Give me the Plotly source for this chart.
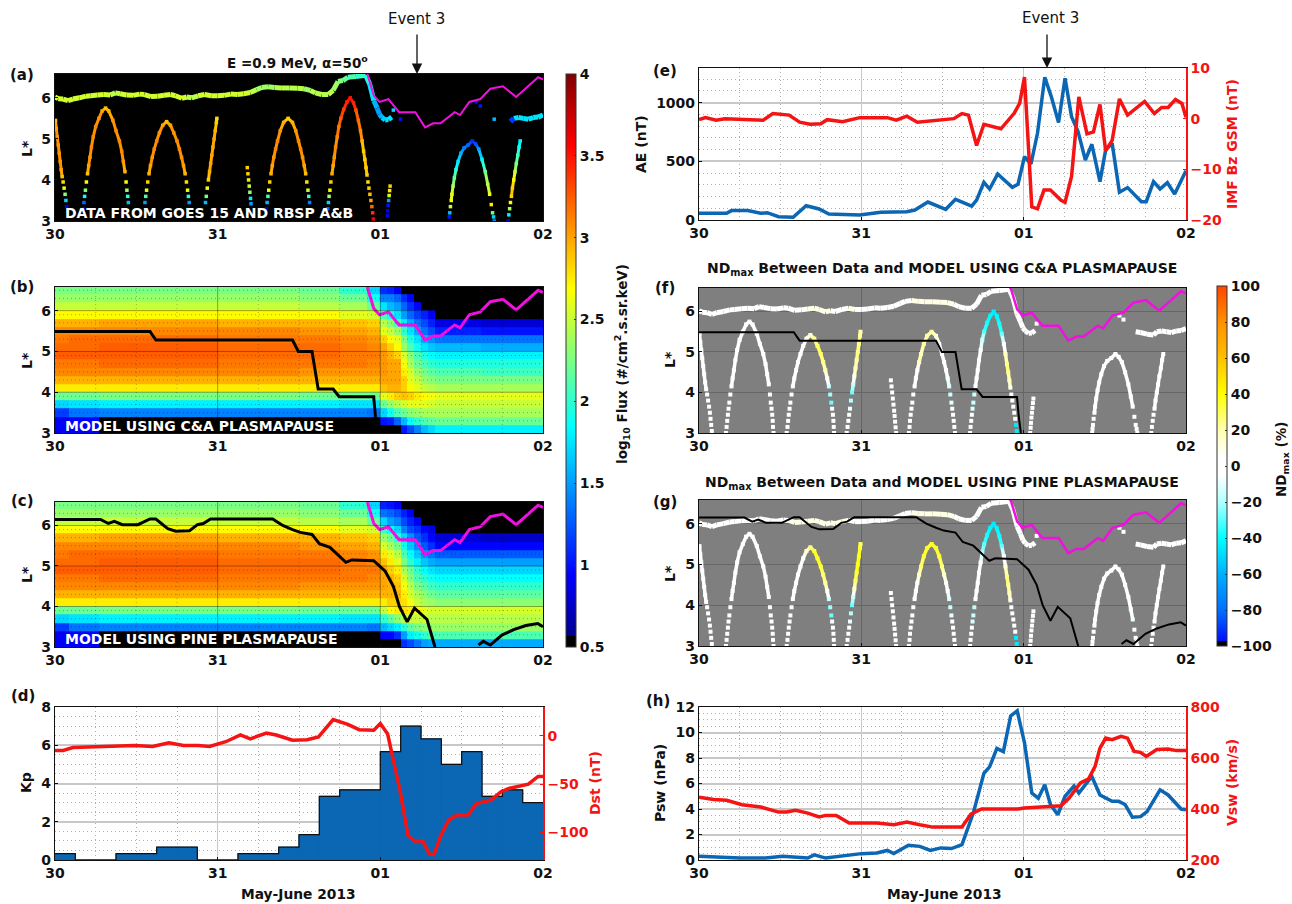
import plotly.graph_objects as go

W, H = 1292, 904
FONT = "DejaVu Sans"
DAY_TICKS = [0, 1, 2, 3]
DAY_LABELS = ["30", "31", "01", "02"]
BLUE = "#0b66b3"
RED = "#f41414"
MAGENTA = "#f010e0"

# ---- satellite data: (day, L*, log10 flux, ND C&A, ND Pine)
ARC1 = [(.003,5.45,2.9,0,0),(.008,5.25,3.0,0,0),(.014,5.05,3.05,0,0),(.02,4.85,3.05,0,0),(.026,4.65,3.05,0,0),(.032,4.45,3.05,0,0),
        (.038,4.25,3.0,0,0),(.044,4.08,2.9,0,0),(.05,3.95,2.8,0,0),(.056,3.8,2.6,0,0),(.062,3.65,2.3,0,0),(.067,3.5,1.7,0,0),(.071,3.35,.9,0,0),(.075,3.2,.5,0,0),(.079,3.05,.5,0,0)]
ARC2 = [(.166,3.0,.5,0,0),(.17,3.15,.5,0,0),(.174,3.3,.8,0,0),(.178,3.45,1.3,0,0),(.182,3.6,1.9,0,0),(.187,3.75,2.3,0,0),(.193,3.95,2.7,0,0),
        (.2,4.15,2.9,0,0),(.207,4.35,3.0,0,0),(.215,4.55,3.05,0,0),(.224,4.8,3.1,0,0),(.235,5.05,3.1,0,0),(.25,5.3,3.1,0,0),(.27,5.5,3.05,0,0),
        (.29,5.68,3.0,0,0),(.311,5.75,2.9,0,0),(.33,5.68,2.95,0,0),(.356,5.45,3.05,0,0),(.375,5.2,3.1,0,0),(.396,4.95,3.1,0,0),(.41,4.7,3.1,0,0),
        (.42,4.45,3.05,0,0),(.43,4.2,2.95,0,0),(.437,3.95,2.7,0,0),(.442,3.75,2.4,0,0),(.447,3.6,2.0,0,0),(.451,3.45,1.6,0,0),(.454,3.3,.5,0,0),(.456,3.15,.5,0,0),(.459,3.0,.5,0,0)]
ARC3 = [(.54,3.0,.5,0,0),(.545,3.15,.5,0,0),(.549,3.3,.5,0,0),(.553,3.45,1.5,0,0),(.558,3.6,2.1,0,0),(.563,3.75,2.6,0,0),(.57,3.95,2.85,0,0),
        (.578,4.15,2.95,0,0),(.587,4.35,3.0,0,0),(.598,4.55,3.05,0,0),(.61,4.75,3.1,0,0),(.625,4.95,3.1,0,3),(.642,5.15,3.05,3,5),(.662,5.33,3.0,8,15),
        (.686,5.42,2.9,15,25),(.71,5.33,3.0,25,35),(.73,5.15,3.05,28,35),(.75,4.95,3.1,28,32),(.765,4.75,3.1,25,28),(.778,4.55,3.05,20,22),(.79,4.35,3.0,5,8),
        (.8,4.15,2.95,-15,-15),(.808,3.95,2.8,-22,-22),(.815,3.75,2.6,-28,-28),(.82,3.6,2.0,-5,-5),(.825,3.45,1.5,0,0),(.828,3.3,.5,0,0),(.83,3.15,.5,0,0),(.832,3.0,.5,0,0)]
ARC4 = [(.91,3.0,.5,0,0),(.915,3.15,.5,0,0),(.92,3.3,.5,0,0),(.925,3.45,1.6,0,0),(.93,3.6,2.2,-8,-8),(.936,3.8,2.7,-20,-20),(.943,4.0,2.85,-28,-28),
        (.95,4.2,2.95,-15,-15),(.957,4.4,3.0,10,15),(.964,4.6,3.0,18,30),(.971,4.8,3.0,22,35),(.978,5.0,3.0,25,38),(.985,5.2,2.95,25,38),(.992,5.4,2.85,22,35),(.995,5.5,2.8,20,30)]
ARC5 = [(1.182,4.3,2.85,0,0),(1.186,4.15,2.85,0,0),(1.19,4.0,2.75,0,0),(1.194,3.85,2.5,0,0),(1.198,3.7,2.3,0,0),(1.202,3.55,1.8,0,0),(1.205,3.42,1.5,0,0),(1.208,3.28,.5,0,0),(1.211,3.14,.5,0,0),(1.214,3.0,.5,0,0)]
ARC6 = [(1.293,3.0,.5,0,0),(1.297,3.15,.5,0,0),(1.3,3.3,.8,0,0),(1.304,3.45,1.6,0,0),(1.309,3.6,2.1,0,0),(1.314,3.75,2.65,0,0),(1.32,3.95,2.85,0,0),
        (1.328,4.15,2.95,0,0),(1.336,4.35,3.0,0,0),(1.345,4.55,3.05,5,5),(1.356,4.75,3.1,15,15),(1.368,4.95,3.1,20,28),(1.385,5.2,3.05,22,33),(1.405,5.4,2.95,22,35),
        (1.433,5.5,2.85,22,35),(1.46,5.4,2.95,12,35),(1.48,5.2,3.05,5,33),(1.497,4.95,3.1,3,25),(1.51,4.75,3.1,0,15),(1.522,4.55,3.05,0,5),(1.532,4.35,3.0,-5,-5),
        (1.541,4.15,2.9,-12,-12),(1.548,3.95,2.8,-15,-15),(1.555,3.75,2.5,-8,-8),(1.56,3.6,2.0,0,0),(1.565,3.45,1.4,0,0),(1.569,3.3,.5,0,0),(1.573,3.15,.5,0,0),(1.577,3.0,.5,0,0)]
ARC7 = [(1.67,3.0,.5,0,0),(1.673,3.15,.7,0,0),(1.677,3.3,1.3,0,0),(1.681,3.45,1.7,-5,-5),(1.685,3.6,2.4,-12,-12),(1.69,3.75,2.7,-15,-15),(1.696,3.95,2.85,-15,-18),
        (1.703,4.15,3.0,-5,-5),(1.71,4.35,3.0,0,0),(1.717,4.55,3.05,0,0),(1.725,4.8,3.1,0,0),(1.735,5.05,3.1,0,-5),(1.745,5.3,3.15,-15,-20),(1.757,5.5,3.25,-30,-30),
        (1.775,5.72,3.35,-38,-38),(1.795,5.9,3.45,-42,-42),(1.815,6.0,3.5,-45,-45),(1.835,5.88,3.45,-42,-42),(1.85,5.7,3.3,-38,-38),(1.865,5.45,3.2,-28,-28),
        (1.878,5.2,3.1,-5,0),(1.888,4.95,2.95,15,12),(1.897,4.7,2.85,25,25),(1.905,4.5,2.85,25,25),(1.912,4.3,2.85,18,18),(1.918,4.12,2.85,8,8),(1.924,3.95,2.8,0,0),
        (1.93,3.8,2.85,0,0),(1.936,3.65,2.9,0,0),(1.942,3.5,3.0,0,0),(1.948,3.35,3.2,0,0),(1.953,3.2,3.4,-45,-45),(1.957,3.05,3.6,-45,-45)]
ARC8 = [(2.04,3.0,.5,0,0),(2.043,3.13,.9,0,0),(2.045,3.25,.9,0,0),(2.048,3.38,1.0,0,0),(2.051,3.5,1.5,0,0),(2.054,3.62,2.6,0,0),(2.057,3.74,2.75,0,0),(2.06,3.85,2.85,0,0)]
ARC9 = [(2.422,3.0,.5,0,0),(2.424,3.1,1.0,0,0),(2.427,3.2,1.6,0,0),(2.431,3.35,2.5,0,0),(2.436,3.5,2.65,0,0),(2.44,3.65,2.6,0,0),(2.447,3.85,2.4,0,0),(2.455,4.05,2.2,0,0),
        (2.465,4.25,1.95,0,0),(2.478,4.45,1.75,0,0),(2.495,4.65,1.55,0,0),(2.515,4.78,1.4,0,0),(2.54,4.85,1.3,0,0),(2.565,4.95,1.1,0,0),(2.585,4.88,1.2,0,0),(2.605,4.75,1.5,0,0),
        (2.625,4.5,1.8,0,0),(2.645,4.2,2.2,0,0),(2.66,3.9,2.45,-5,-5),(2.672,3.65,2.65,-5,-8),(2.682,3.4,2.75,0,0),(2.69,3.2,2.2,0,0),(2.696,3.1,1.7,0,0),(2.7,3.0,1.4,0,0)]
ARC10 = [(2.786,3.0,.9,0,0),(2.79,3.15,1.8,0,0),(2.795,3.3,2.4,0,0),(2.8,3.45,2.7,0,0),(2.806,3.6,2.85,0,0),(2.812,3.8,2.85,0,0),(2.82,4.0,2.7,0,0),(2.828,4.2,2.5,0,0),
         (2.836,4.4,2.25,0,0),(2.845,4.6,2.05,0,0),(2.853,4.8,1.9,0,0),(2.86,4.95,1.8,0,0)]
ARCS = [ARC1, ARC2, ARC3, ARC4, ARC5, ARC6, ARC7, ARC8, ARC9, ARC10]
ARC_SOLID_FROM = [4.0, 4.0, 4.0, 4.0, 9, 4.0, 4.0, 9, 3.5, 3.5]

GOES = [(0,6.02,2.5,0,0),(.02,5.98,2.5,0,0),(.05,5.97,2.5,0,0),(.08,5.93,2.5,0,0),(.11,5.97,2.5,0,0),(.15,6.0,2.5,0,0),(.19,6.04,2.5,0,0),(.22,6.05,2.5,0,0),(.26,6.07,2.5,0,0),
        (.3,6.08,2.5,0,0),(.34,6.07,2.5,0,0),(.37,6.12,2.45,3,3),(.4,6.1,2.5,3,3),(.44,6.07,2.5,3,3),(.48,6.06,2.5,3,5),(.52,6.09,2.5,3,5),(.55,6.08,2.5,5,8),(.59,6.03,2.5,5,8),
        (.63,6.04,2.5,5,10),(.67,6.06,2.5,8,10),(.71,6.08,2.5,10,10),(.74,6.05,2.5,10,12),(.78,5.99,2.5,8,12),(.81,6.02,2.5,8,10),(.84,6.0,2.45,5,10),(.88,6.05,2.5,5,8),(.92,6.08,2.5,8,8),
        (.96,6.05,2.5,8,5),(1.0,6.05,2.5,5,3),(1.04,6.06,2.5,3,0),(1.08,6.09,2.5,0,0),(1.12,6.08,2.5,0,0),(1.16,6.1,2.5,0,0),(1.2,6.13,2.5,3,3),(1.24,6.2,2.4,3,3),(1.27,6.25,2.4,5,5),
        (1.31,6.27,2.4,8,8),(1.35,6.25,2.4,8,8),(1.39,6.24,2.45,8,8),(1.44,6.24,2.45,10,10),(1.49,6.23,2.45,12,12),(1.53,6.22,2.4,10,10),(1.57,6.18,2.4,8,8),(1.6,6.12,2.45,5,5),
        (1.64,6.08,2.45,5,5),(1.68,6.08,2.45,0,0),(1.71,6.18,2.4,-3,-3),(1.74,6.4,2.3,-5,-5),(1.77,6.42,2.25,-5,-5),(1.8,6.5,2.1,-8,-8),(1.85,6.52,2.05,-6,-6),(1.91,6.55,2.0,-3,-3),
        (1.934,6.34,1.85,-3,-3),(1.96,5.93,1.6,0,0),(1.98,5.75,1.55,0,0),(1.995,5.6,1.5,0,0),(2.01,5.52,1.6,0,0),(2.03,5.46,1.7,0,0),(2.05,5.47,1.75,0,0),(2.07,5.53,1.75,0,0)]
GOES_LATE = [(2.69,5.5,.5,0,0),(2.72,5.48,.5,0,0),(2.76,5.44,.5,0,0),(2.8,5.42,.5,0,0),(2.82,5.5,1.75,0,0),(2.85,5.52,1.75,0,0),(2.88,5.5,1.75,0,0),(2.91,5.48,1.75,0,0),
             (2.94,5.52,1.75,0,0),(2.97,5.53,1.75,0,0),(3.0,5.58,1.75,0,0)]
STRAY = [(2.08,5.7,1.7,0,0),(2.124,5.48,1.0,0,0),(2.59,5.9,1.0,0,0),(2.615,5.8,1.0,0,0),(2.7,5.48,1.6,0,0)]

# ---- plasmapause locations
LPP_T = [1.92,1.96,1.995,2.05,2.115,2.215,2.275,2.325,2.37,2.457,2.49,2.547,2.615,2.676,2.754,2.835,2.97,3.0]
LPP_L = [6.58,6.05,5.9,5.97,5.65,5.65,5.28,5.38,5.38,5.65,5.58,5.9,5.97,6.22,6.28,6.02,6.5,6.45]
CA_T = [0,.584,.62,1.46,1.496,1.58,1.618,1.71,1.747,1.959,1.97,1.983]
CA_L = [5.49,5.49,5.28,5.28,5.0,5.0,4.08,4.08,3.89,3.89,3.4,3.0]
PINE_T = [0,.28,.328,.365,.414,.51,.584,.62,.693,.742,.827,.876,.912,.956,1.338,1.4,1.46,1.508,1.58,1.625,1.69,1.788,1.825,1.959,2.03,2.08,2.117,2.165,2.21,2.287,2.336,None,2.603,2.633,2.676,2.75,2.82,2.895,2.968,3.0]
PINE_L = [6.15,6.15,6.05,6.1,6.02,6.02,6.16,6.16,5.92,5.86,5.87,6.02,6.05,6.16,6.16,6.0,5.9,5.83,5.78,5.55,5.46,5.09,5.15,5.13,4.87,4.5,4.0,3.62,3.96,3.68,3.0,None,3.05,3.14,3.05,3.3,3.43,3.53,3.58,3.5]

# ---- model grids
GRID_T = [0,.085,.27,1.0,1.5,1.75,1.92,2.0,2.0417,2.0833,2.125,2.1667,2.2083,2.25,2.2917,2.3333,2.62,3.0]
GRID_L = [3.0,3.2,3.4,3.6,3.8,4.0,4.2,4.4,4.6,4.8,5.0,5.2,5.4,5.6,5.8,6.0,6.2,6.4,6.6]
FLUX_B = [
 [.9,.9,.5,.5,.5,.5,.5,.5,.5,.5,1.0,1.2,1.4,1.6,1.7,1.8,1.8],
 [.9,.95,.5,.5,.5,.5,.5,1.0,1.05,1.3,1.6,1.85,2.0,2.1,2.15,2.2,2.2],
 [1.15,1.35,1.4,1.4,1.4,1.4,1.35,1.7,1.9,2.1,2.2,2.3,2.35,2.4,2.4,2.4,2.4],
 [1.7,1.75,1.8,1.8,1.8,1.75,1.75,2.2,2.35,2.45,2.55,2.6,2.6,2.6,2.55,2.5,2.5],
 [2.2,2.2,2.25,2.25,2.2,2.2,2.2,2.6,2.75,2.85,2.9,2.85,2.75,2.7,2.65,2.6,2.6],
 [2.75,2.75,2.75,2.75,2.75,2.75,2.75,2.9,2.95,2.95,2.85,2.7,2.6,2.5,2.45,2.4,2.4],
 [2.95,2.95,2.95,2.95,2.95,2.95,2.95,3.0,3.0,3.0,2.85,2.6,2.5,2.35,2.3,2.25,2.25],
 [3.1,3.1,3.1,3.1,3.05,3.05,3.05,3.05,3.0,3.0,2.75,2.55,2.35,2.25,2.15,2.1,2.05],
 [3.15,3.15,3.2,3.15,3.15,3.15,3.1,3.05,3.0,3.0,2.65,2.4,2.2,2.1,2.0,1.95,1.95],
 [3.25,3.25,3.25,3.2,3.2,3.15,3.15,3.05,2.95,2.85,2.55,2.3,2.1,1.95,1.85,1.8,1.8],
 [3.2,3.2,3.25,3.2,3.2,3.15,3.1,3.0,2.85,2.7,2.35,2.1,1.9,1.75,1.65,1.6,1.55],
 [3.15,3.2,3.2,3.15,3.15,3.1,3.05,2.85,2.7,2.6,2.25,1.95,1.75,1.55,1.45,1.35,1.35],
 [3.1,3.1,3.1,3.1,3.05,3.0,2.95,2.6,2.5,2.35,2.0,1.75,1.55,1.35,1.2,1.05,1.0],
 [2.95,2.95,3.0,2.95,2.95,2.9,2.85,2.45,2.3,2.1,1.8,1.55,1.35,1.2,1.05,.85,.8],
 [2.7,2.7,2.7,2.7,2.7,2.6,2.55,2.1,1.9,1.75,1.5,1.3,1.15,1.05,.9,.5,.5],
 [2.5,2.5,2.5,2.5,2.45,2.4,2.2,1.75,1.6,1.5,1.3,1.1,.95,.5,.5,.5,.5],
 [2.35,2.35,2.35,2.35,2.3,2.2,1.9,1.4,1.4,1.3,1.1,.95,.5,.5,.5,.5,.5],
 [2.25,2.25,2.25,2.25,2.2,2.0,1.7,1.1,1.05,.9,.5,.5,.5,.5,.5,.5,.5],
]
FLUX_C = [
 [.9,.9,.5,.5,.5,.5,.5,.5,.5,.5,1.1,1.2,1.35,1.5,1.55,1.55,1.55],
 [.9,.95,.5,.5,.5,.5,.5,.95,.95,1.1,1.5,1.8,1.9,2.0,2.1,2.1,2.1],
 [1.15,1.35,1.4,1.4,1.4,1.4,1.35,1.6,1.7,1.8,2.0,2.15,2.25,2.3,2.35,2.35,2.35],
 [1.7,1.75,1.8,1.8,1.8,1.75,1.75,2.0,2.15,2.3,2.45,2.5,2.5,2.5,2.45,2.45,2.45],
 [2.2,2.2,2.25,2.25,2.2,2.2,2.2,2.5,2.7,2.75,2.8,2.75,2.7,2.6,2.55,2.55,2.55],
 [2.75,2.75,2.75,2.75,2.75,2.75,2.75,2.75,2.85,2.85,2.8,2.65,2.5,2.4,2.35,2.3,2.3],
 [2.95,2.95,2.95,2.95,2.95,2.95,2.95,2.95,2.95,2.95,2.75,2.55,2.4,2.3,2.2,2.15,2.15],
 [3.1,3.1,3.1,3.1,3.05,3.05,3.05,3.0,2.95,2.9,2.65,2.45,2.25,2.15,2.05,2.0,2.0],
 [3.15,3.15,3.2,3.15,3.15,3.15,3.1,3.0,2.95,2.85,2.55,2.3,2.1,2.0,1.9,1.85,1.85],
 [3.25,3.25,3.25,3.2,3.2,3.15,3.15,3.0,2.85,2.75,2.4,2.2,2.0,1.85,1.75,1.7,1.7],
 [3.2,3.2,3.25,3.2,3.2,3.15,3.1,2.9,2.75,2.6,2.25,2.0,1.8,1.65,1.55,1.5,1.5],
 [3.15,3.2,3.2,3.15,3.15,3.1,3.05,2.75,2.6,2.45,2.1,1.85,1.65,1.45,1.35,1.25,1.25],
 [3.1,3.1,3.1,3.1,3.05,3.0,2.95,2.55,2.4,2.25,1.9,1.65,1.45,1.25,1.1,.95,.95],
 [2.95,2.95,3.0,2.95,2.95,2.9,2.85,2.35,2.2,2.0,1.7,1.45,1.25,1.1,.95,.8,.75],
 [2.7,2.7,2.7,2.7,2.7,2.6,2.55,2.05,1.85,1.7,1.4,1.2,1.1,.95,.85,.5,.5],
 [2.5,2.5,2.5,2.5,2.45,2.4,2.2,1.7,1.5,1.4,1.2,1.05,.9,.5,.5,.5,.5],
 [2.35,2.35,2.35,2.35,2.3,2.2,1.9,1.35,1.3,1.2,1.05,.9,.5,.5,.5,.5,.5],
 [2.25,2.25,2.25,2.25,2.2,2.0,1.7,1.05,1.0,.9,.5,.5,.5,.5,.5,.5,.5],
]

# ---- geophysical indices
KP_T = [.0625,.1875,.3125,.4375,.5625,.6875,.8125,.9375,1.0625,1.1875,1.3125,1.4375,1.5625,1.6875,1.8125,1.9375,2.0625,2.1875,2.3125,2.4375,2.5625,2.6875,2.8125,2.9375]
KP = [.33,0,0,.33,.33,.67,.67,0,0,.33,.33,.67,1.33,3.33,3.67,3.67,5.67,7,6.33,5,5.67,3.33,3.67,3]
DST_T = [0,.05,.11,.27,.39,.49,.6,.7,.79,.88,.95,1.05,1.14,1.2,1.3,1.36,1.46,1.55,1.62,1.67,1.71,1.8,1.87,1.96,2.0,2.045,2.08,2.12,2.17,2.21,2.26,2.3,2.33,2.37,2.42,2.47,2.54,2.59,2.68,2.74,2.79,2.85,2.91,2.97,3.0]
DST = [-15,-15,-12,-11,-11,-10,-11,-7,-10,-10,-11,-6,1,-3,3,1,-4.5,-4,-1,9,17,12,6.5,6,13,2,-25,-56,-103,-109,-108.6,-122,-123,-104,-87,-82,-82,-70,-66.5,-58,-54.5,-52,-50,-42,-42]
AE_T = [0,.17,.2,.3,.38,.42,.49,.58,.66,.74,.8,.99,1.12,1.28,1.33,1.41,1.52,1.58,1.68,1.71,1.755,1.79,1.84,1.93,1.965,2.005,2.045,2.085,2.13,2.17,2.215,2.255,2.295,2.335,2.38,2.42,2.47,2.505,2.545,2.59,2.64,2.725,2.755,2.8,2.84,2.885,2.93,3.0]
AE = [57,57,80,80,57,62,28,23,122,94,51,43,65,71,85,153,91,176,119,170,321,264,392,278,304,540,477,739,1216,1051,830,1207,880,753,511,645,327,597,653,236,276,156,156,327,264,318,222,420]
BZ_T = [0,.04,.105,.16,.395,.455,.555,.62,.685,.75,.79,.885,.99,1.16,1.215,1.28,1.345,1.57,1.62,1.66,1.71,1.755,1.86,1.94,1.975,2.005,2.025,2.05,2.085,2.125,2.165,2.23,2.255,2.295,2.34,2.39,2.43,2.47,2.505,2.545,2.59,2.64,2.745,2.805,2.85,2.89,2.935,2.975,3.0]
BZ = [-.2,.2,-.3,0,-.3,1,.7,-.7,-1.1,-1,-.2,-.6,.2,.2,-.3,.5,-.7,0,1,.7,-5.3,-1.1,-2,1,3,8.2,-3,-17.4,-17.8,-14.1,-14.1,-16.1,-16.5,-11.4,4.3,-3,-2.6,2.8,-6.3,-4.3,3.9,.7,3.4,1,2.2,2.2,3.8,3,.3]
PSW_T = [0,.25,.41,.515,.67,.71,.78,.885,1.0,1.095,1.16,1.2,1.29,1.36,1.425,1.49,1.555,1.62,1.69,1.755,1.79,1.835,1.875,1.92,1.96,2.005,2.05,2.09,2.13,2.165,2.21,2.255,2.31,2.34,2.42,2.47,2.545,2.585,2.625,2.67,2.72,2.76,2.84,2.89,2.97,3.0]
PSW = [.3,.15,.15,.3,.15,.4,.15,.3,.5,.55,.75,.5,1.15,1.07,.75,.95,.9,1.2,3.7,6.8,7.3,8.75,8.5,11.3,11.7,9.2,5.25,4.85,5.9,4.35,3.55,5,5.8,5.25,6.55,5.1,4.6,4.6,4.35,3.35,3.4,3.8,5.5,5.1,4.0,3.95]
VSW_T = [0,.09,.17,.265,.38,.49,.54,.595,.67,.74,.78,.845,.925,1.095,1.2,1.28,1.36,1.44,1.62,1.675,1.74,1.965,2.005,2.15,2.23,2.28,2.35,2.4,2.44,2.47,2.505,2.545,2.6,2.64,2.68,2.72,2.755,2.82,2.89,2.94,3.0]
VSW = [446,437,434,417,408,388,388,395,384,369,375,375,345,345,338,349,338,329,329,380,400,400,404,408,413,443,502,518,567,639,678,672,685,678,626,622,606,633,635,629,629]

JET = [[0,"#000000"],[.02,"#000000"],[.02,"#00008f"],[.125,"#0000ff"],[.385,"#00ffff"],[.625,"#ffff00"],[.875,"#ff0000"],[1,"#800000"]]
ND_SCALE = [[0,"#000000"],[.015,"#000000"],[.015,"#0010ff"],[.1,"#0070ff"],[.2,"#00b0ff"],[.3,"#00ffff"],[.4,"#b0ffff"],[.475,"#ffffff"],[.525,"#ffffff"],[.6,"#ffffb0"],[.7,"#ffff00"],[.8,"#ffc000"],[.9,"#ff9000"],[1,"#ff4500"]]


def px_x(p):
    return p / W


def px_y(p):
    return 1 - p / H


def tint(scale, frac):
    frac = min(max(frac, 0), 1)
    for (a, ca), (b, cb) in zip(scale, scale[1:]):
        if a <= frac <= b and b > a:
            f = (frac - a) / (b - a)
            ra = [int(ca[i:i + 2], 16) for i in (1, 3, 5)]
            rb = [int(cb[i:i + 2], 16) for i in (1, 3, 5)]
            return "rgb(%d,%d,%d)" % tuple(round(x + (y - x) * f) for x, y in zip(ra, rb))
    return scale[-1][1]


def band_lines(fig, runs, col, scale, lo, hi, width, xa, ya):
    """Draw coloured polylines; one trace per colour bin."""
    bins = {}
    for pts, solid in runs:
        for p, q in zip(pts, pts[1:]):
            if p[1] >= solid and q[1] >= solid:
                key = round((p[col] + q[col]) / 2 / ((hi - lo) / 40)) * ((hi - lo) / 40)
                b = bins.setdefault(key, ([], []))
                b[0].extend([p[0], q[0], None])
                b[1].extend([p[1], q[1], None])
    for key, (xs, ys) in bins.items():
        fig.add_trace(go.Scatter(x=xs, y=ys, mode="lines", xaxis=xa, yaxis=ya, showlegend=False, hoverinfo="skip",
                                 line=dict(color=tint(scale, (key - lo) / (hi - lo)), width=width)))


def dots(fig, pts, col, axis, size, xa, ya):
    fig.add_trace(go.Scatter(x=[p[0] for p in pts], y=[p[1] for p in pts], mode="markers", xaxis=xa, yaxis=ya, showlegend=False, hoverinfo="skip",
                             marker=dict(symbol="square", size=size, line_width=0, color=[p[col] for p in pts], coloraxis=axis)))


def data_panel(fig, col, axis, scale, lo, hi, xa, ya, width, goes_w, size):
    runs = [(a, s) for a, s in zip(ARCS, ARC_SOLID_FROM)]
    band_lines(fig, runs, col, scale, lo, hi, width, xa, ya)
    band_lines(fig, [(GOES, 0), (GOES_LATE, 0)], col, scale, lo, hi, goes_w, xa, ya)
    allpts = [p for a in ARCS for p in a]
    allpts += STRAY if col == 2 else [STRAY[0], STRAY[2], STRAY[3]]
    dots(fig, allpts, col, axis, size, xa, ya)


fig = go.Figure()
TICK = dict(family=FONT, size=14, color="#111111", weight="bold")
TICK_R = dict(family=FONT, size=14, color=RED, weight="bold")
MINOR_DOT = "1px,3px"

LEFT = (55, 543)
RIGHT = (699, 1186)
PANELS = {
    1: (LEFT, 74, 221), 2: (LEFT, 287, 433), 3: (LEFT, 502, 647), 4: (LEFT, 707, 860),
    5: (RIGHT, 68, 220), 6: (RIGHT, 288, 433), 7: (RIGHT, 500, 646), 8: (RIGHT, 707, 860),
}
L_RANGE = [3, 6.58]
L_TICKS = [3, 4, 5, 6]
layout_axes = {}
for i, ((x0, x1), top, bot) in PANELS.items():
    white = i in (4, 5, 8)
    grey = i in (6, 7)
    xax = dict(domain=[px_x(x0), px_x(x1)], range=[0, 3], anchor="y%d" % i, tickmode="array", tickvals=DAY_TICKS, ticktext=DAY_LABELS,
               tickfont=TICK, showline=True, linecolor="#111111", linewidth=1.2, mirror=True, ticks="inside", ticklen=3, tickcolor="#111111",
               showgrid=white or grey, gridcolor="#c8c8c8" if white else "#666666", gridwidth=1, zeroline=False)
    yax = dict(domain=[px_y(bot), px_y(top)], anchor="x%d" % i, tickfont=TICK, showline=True, linecolor="#111111", linewidth=1.2,
               mirror=not white, ticks="inside", ticklen=3, tickcolor="#111111", showgrid=white or grey,
               gridcolor="#c8c8c8" if white else "#666666", gridwidth=2 if white else 1, zeroline=False)
    if white:
        xax["minor"] = dict(dtick=.25, tick0=0, showgrid=True, griddash=MINOR_DOT, gridcolor="#b0b0b0", gridwidth=1, ticks="")
    if i in (1, 2, 3, 6, 7):
        yax.update(range=L_RANGE, tickmode="array", tickvals=L_TICKS)
    layout_axes["xaxis%d" % i] = xax
    layout_axes["yaxis%d" % i] = yax

MINOR_Y = dict(tick0=0, showgrid=True, griddash=MINOR_DOT, gridcolor="#b0b0b0", gridwidth=1, ticks="")
layout_axes["yaxis4"].update(range=[0, 8], tickmode="array", tickvals=[0, 2, 4, 6, 8], minor=dict(dtick=.5, **MINOR_Y))
layout_axes["yaxis5"].update(range=[0, 1295], tickmode="array", tickvals=[0, 500, 1000], minor=dict(dtick=100, **MINOR_Y))
layout_axes["yaxis8"].update(range=[0, 12], tickmode="array", tickvals=[0, 2, 4, 6, 8, 10, 12], minor=dict(dtick=.5, **MINOR_Y))
for idx, ov, rng, tv in ((9, 4, [-128.6, 30], [-100, -50, 0]), (10, 5, [-20, 10], [-20, -10, 0, 10]), (11, 8, [200, 800], [200, 400, 600, 800])):
    layout_axes["yaxis%d" % idx] = dict(overlaying="y%d" % ov, anchor="x%d" % ov, side="right", range=rng, tickmode="array", tickvals=tv, tickfont=TICK_R,
                                        showline=True, linecolor=RED, linewidth=1.5, ticks="inside", ticklen=3, tickcolor=RED, showgrid=False, zeroline=False)

# panel a
data_panel(fig, 2, "coloraxis", JET, .5, 4, "x1", "y1", 3, 5, 3.5)
fig.add_trace(go.Scatter(x=LPP_T, y=LPP_L, mode="lines", xaxis="x1", yaxis="y1", line=dict(color=MAGENTA, width=2), showlegend=False, hoverinfo="skip"))

# panels b, c
for n, flux, black_t, black_l, lw in ((2, FLUX_B, CA_T, CA_L, 3), (3, FLUX_C, PINE_T, PINE_L, 3)):
    fig.add_trace(go.Heatmap(x=GRID_T, y=GRID_L, z=flux, coloraxis="coloraxis", xaxis="x%d" % n, yaxis="y%d" % n, hoverinfo="skip"))
    fig.add_trace(go.Scatter(x=LPP_T, y=LPP_L, mode="lines", xaxis="x%d" % n, yaxis="y%d" % n, line=dict(color=MAGENTA, width=3), showlegend=False, hoverinfo="skip"))
    fig.add_trace(go.Scatter(x=black_t, y=black_l, mode="lines", xaxis="x%d" % n, yaxis="y%d" % n, line=dict(color="black", width=lw), showlegend=False, hoverinfo="skip"))

# panel d
fig.add_trace(go.Bar(x=KP_T, y=KP, width=.125, xaxis="x4", yaxis="y4", marker=dict(color=BLUE, line=dict(color=BLUE, width=1)), showlegend=False, hoverinfo="skip"))
fig.add_trace(go.Scatter(x=[0] + KP_T + [3], y=[KP[0]] + KP + [KP[-1]], mode="lines", xaxis="x4", yaxis="y4", line=dict(color="#111111", width=1.2, shape="hvh"), showlegend=False, hoverinfo="skip"))
fig.add_trace(go.Scatter(x=DST_T, y=DST, mode="lines", xaxis="x4", yaxis="y9", line=dict(color=RED, width=3.5), showlegend=False, hoverinfo="skip"))

# panel e
fig.add_trace(go.Scatter(x=AE_T, y=AE, mode="lines", xaxis="x5", yaxis="y5", line=dict(color=BLUE, width=3.5), showlegend=False, hoverinfo="skip"))
fig.add_trace(go.Scatter(x=BZ_T, y=BZ, mode="lines", xaxis="x5", yaxis="y10", line=dict(color=RED, width=3.5), showlegend=False, hoverinfo="skip"))

# panels f, g
for n, col, black_t, black_l in ((6, 3, CA_T, CA_L), (7, 4, PINE_T, PINE_L)):
    data_panel(fig, col, "coloraxis2", ND_SCALE, -100, 100, "x%d" % n, "y%d" % n, 3.5, 5, 4)
    fig.add_trace(go.Scatter(x=black_t, y=black_l, mode="lines", xaxis="x%d" % n, yaxis="y%d" % n, line=dict(color="black", width=2), showlegend=False, hoverinfo="skip"))
    fig.add_trace(go.Scatter(x=LPP_T, y=LPP_L, mode="lines", xaxis="x%d" % n, yaxis="y%d" % n, line=dict(color=MAGENTA, width=2.5), showlegend=False, hoverinfo="skip"))

# panel h
fig.add_trace(go.Scatter(x=PSW_T, y=PSW, mode="lines", xaxis="x8", yaxis="y8", line=dict(color=BLUE, width=3.5), showlegend=False, hoverinfo="skip"))
fig.add_trace(go.Scatter(x=VSW_T, y=VSW, mode="lines", xaxis="x8", yaxis="y11", line=dict(color=RED, width=3.5), showlegend=False, hoverinfo="skip"))

# panel backgrounds and grid over the heat maps
shapes = []
for ref, col in (("", "#000000"), ("6", "#7f7f7f"), ("7", "#7f7f7f")):
    shapes.append(dict(type="rect", xref="x%s domain" % ref, yref="y%s domain" % ref, x0=0, x1=1, y0=0, y1=1, fillcolor=col, line_width=0, layer="below"))
for n in (2, 3):
    for l in (4, 5, 6):
        shapes.append(dict(type="line", xref="x%d" % n, yref="y%d" % n, x0=0, x1=3, y0=l, y1=l, line=dict(color="rgba(0,0,0,.35)", width=1), layer="above"))
    for t in (1, 2):
        shapes.append(dict(type="line", xref="x%d" % n, yref="y%d" % n, x0=t, x1=t, y0=3, y1=6.58, line=dict(color="rgba(0,0,0,.35)", width=1), layer="above"))
    for l in GRID_L[1:-1]:
        if l not in (4.0, 5.0, 6.0):
            shapes.append(dict(type="line", xref="x%d" % n, yref="y%d" % n, x0=0, x1=3, y0=l + .1, y1=l + .1, line=dict(color="rgba(0,0,0,.3)", width=1, dash=MINOR_DOT), layer="above"))
    for q in (.25, .5, .75, 1.25, 1.5, 1.75, 2.25, 2.5, 2.75):
        shapes.append(dict(type="line", xref="x%d" % n, yref="y%d" % n, x0=q, x1=q, y0=3, y1=6.58, line=dict(color="rgba(0,0,0,.25)", width=1, dash=MINOR_DOT), layer="above"))


def note(text, x, y, size=13, color="#111111", bold=True, angle=0, anchor="center"):
    return dict(text=("<b>%s</b>" % text) if bold else text, x=px_x(x), y=px_y(y), xref="paper", yref="paper", showarrow=False,
                font=dict(family=FONT, size=size, color=color), textangle=angle, xanchor=anchor, yanchor="middle")


annots = [
    note("(a)", 22, 75, 15), note("(b)", 22, 287, 15), note("(c)", 22, 501, 15), note("(d)", 23, 696, 15),
    note("(e)", 665, 71, 15), note("(f)", 665, 288, 15), note("(g)", 665, 502, 15), note("(h)", 658, 701, 15),
    note("L*", 27, 148, 14, angle=-90), note("L*", 27, 360, 14, angle=-90), note("L*", 27, 574, 14, angle=-90),
    note("L*", 670, 360, 14, angle=-90), note("L*", 670, 574, 14, angle=-90),
    note("Kp", 26, 783, 14, angle=-90), note("AE (nT)", 641, 144, 14, angle=-90), note("Psw (nPa)", 660, 783, 14, angle=-90),
    note("Dst (nT)", 595, 783, 14, RED, angle=-90), note("IMF Bz GSM (nT)", 1232, 144, 14, RED, angle=-90), note("Vsw (km/s)", 1232, 783, 14, RED, angle=-90),
    note("May-June 2013", 298, 894, 13.8), note("May-June 2013", 944, 894, 13.8),
    note("E =0.9 MeV, &#945;=50<sup>o</sup>", 297, 62, 13.5),
    note("ND<sub>max</sub> Between Data and MODEL USING C&amp;A PLASMAPAUSE", 942, 269, 14),
    note("ND<sub>max</sub> Between Data and MODEL USING PINE PLASMAPAUSE", 942, 483, 14),
    note("DATA FROM GOES 15 AND RBSP A&amp;B", 63, 213, 14, "white", anchor="left"),
    note("MODEL USING C&amp;A PLASMAPAUSE", 63, 426, 14, "white", anchor="left"),
    note("MODEL USING PINE PLASMAPAUSE", 63, 639, 14, "white", anchor="left"),
    note("log<sub>10</sub> Flux (#/cm<sup>2</sup>.s.sr.keV)", 622, 364, 13.5, angle=-90),
    note("ND<sub>max</sub> (%)", 1282, 460, 13.5, angle=-90),
    note("Event 3", 416, 19, 15, bold=False), note("Event 3", 1050, 18, 15, bold=False),
]
for tx, top, bot in ((417, 33, 74), (1047, 33, 68)):
    annots.append(dict(x=px_x(tx), y=px_y(bot), xref="paper", yref="paper", ax=0, ay=top - bot, axref="pixel", ayref="pixel", text="", showarrow=True,
                       arrowhead=2, arrowsize=1.6, arrowwidth=1.3, arrowcolor="#111111"))

fig.update_layout(
    width=W, height=H, margin=dict(l=0, r=0, t=0, b=0, autoexpand=False), paper_bgcolor="white", plot_bgcolor="white", showlegend=False, barmode="overlay",
    shapes=shapes, annotations=annots, font=dict(family=FONT),
    coloraxis=dict(cmin=.5, cmax=4, colorscale=JET, colorbar=dict(x=px_x(566), xanchor="left", y=px_y(74), yanchor="top", len=(647 - 74) / H, thickness=10, ypad=0, xpad=0,
                   outlinewidth=1, outlinecolor="#333333", tickvals=[.5, 1, 1.5, 2, 2.5, 3, 3.5, 4], ticktext=["0.5", "1", "1.5", "2", "2.5", "3", "3.5", "4"], ticks="inside", ticklen=2, tickcolor="#333333", tickfont=TICK)),
    coloraxis2=dict(cmin=-100, cmax=100, colorscale=ND_SCALE, colorbar=dict(x=px_x(1217), xanchor="left", y=px_y(286), yanchor="top", len=(646 - 286) / H, thickness=10, ypad=0, xpad=0,
                    outlinewidth=1, outlinecolor="#333333", tickvals=[-100, -80, -60, -40, -20, 0, 20, 40, 60, 80, 100], ticks="inside", ticklen=2, tickcolor="#333333", tickfont=TICK)),
    **layout_axes,
)
fig.write_html("out.html", config=dict(displayModeBar=False), post_script="document.body.style.margin='0';")
